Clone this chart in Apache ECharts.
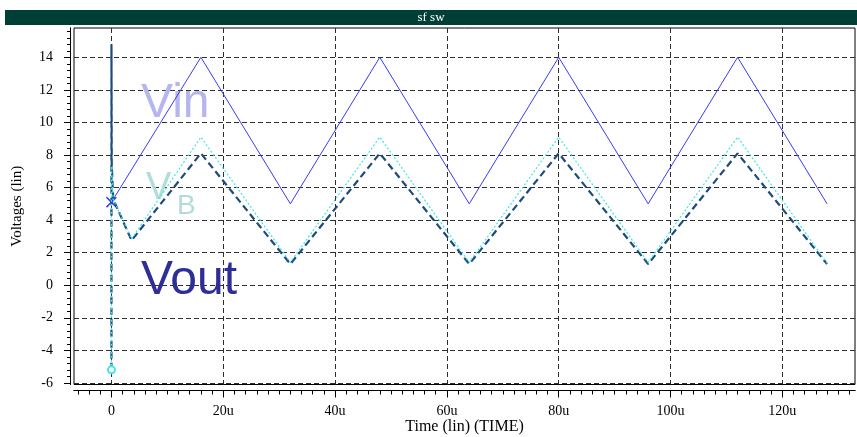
<!DOCTYPE html>
<html>
<head>
<meta charset="utf-8">
<script src="https://cdn.jsdelivr.net/npm/echarts@6/dist/echarts.min.js"></script>
<style>
  html, body { margin: 0; padding: 0; background: #ffffff; }
  #chart { width: 857px; height: 437px; }
</style>
</head>
<body>
<div id="chart"></div>
<script>
// Time axis (microseconds) and voltage axis tick values
const timeTicks = [0, 20, 40, 60, 80, 100, 120];
const voltTicks = [-6, -4, -2, 0, 2, 4, 6, 8, 10, 12, 14];

// Waveforms: [time in us, volts]
const vin = [[0, 5.1], [16, 14], [32, 5], [48, 14], [64, 5], [80, 14], [96, 5], [112, 14], [128, 5]];
const vb = [[0, -5.2], [0, 7.3], [0.3, 5.3], [3.6, 2.85], [16, 9.1], [32, 1.4], [48, 9.1], [64, 1.4],
            [80, 9.1], [96, 1.4], [112, 9.1], [128, 1.35]];
const vout = [[0, -5.2], [0, 14.8], [0.05, 7.5], [0.3, 5.3], [3.6, 2.75], [16, 8.1], [32, 1.3], [48, 8.1],
              [64, 1.3], [80, 8.1], [96, 1.3], [112, 8.1], [128, 1.3]];

const X_MIN = -6.7, X_MAX = 133;
const Y_MIN = -6.1, Y_MAX = 15.8;

// minor tick positions: every 2us on time, every 0.4V on voltage
const timeMinor = [];
for (let t = -6; t <= 132; t += 2) timeMinor.push(t);
const voltMinor = [];
for (let i = 0; i * 0.4 - 6 <= 15.6 + 1e-9; i++) voltMinor.push(+(i * 0.4 - 6).toFixed(2));

const serifFont = '"Liberation Serif", "DejaVu Serif", serif';
const gridDash = { color: '#2e2e2e', width: 1, type: [5, 3] };
const axisLineStyle = { show: true, onZero: false, lineStyle: { color: '#000', width: 1 } };

const chart = echarts.init(document.getElementById('chart'), null, { renderer: 'canvas' });

const baseX = { type: 'value', gridIndex: 0, min: X_MIN, max: X_MAX, position: 'bottom' };
const baseY = { type: 'value', gridIndex: 0, min: Y_MIN, max: Y_MAX, position: 'left' };

// filled "x" cross used as the start marker of Vin
const xSymbol = 'path://M0,1L1,0L5,4L9,0L10,1L6,5L10,9L9,10L5,6L1,10L0,9L4,5Z';

chart.setOption({
  animation: false,
  backgroundColor: '#ffffff',
  title: {
    text: 'sf sw',
    left: 431, top: 11, textAlign: 'center', padding: 0,
    textStyle: { color: '#ffffff', fontSize: 13, fontWeight: 'normal', fontFamily: serifFont, lineHeight: 13 }
  },
  grid: {
    left: 74, top: 28, right: 2, height: 356.5,
    outerBoundsMode: 'none', containLabel: false,
    show: true, borderColor: '#000000', borderWidth: 1, backgroundColor: 'transparent'
  },
  graphic: [
    { type: 'rect', left: 5, top: 10, shape: { width: 852, height: 15 }, style: { fill: '#003f36' }, z: -1 },
    { type: 'text', x: 141, y: 80, z: 1,
      style: { text: 'Vin', fill: '#b6b6ee', font: '48px "Liberation Sans", Arial, sans-serif' } },
    { type: 'text', x: 146, y: 170, z: 1,
      style: { text: 'V', fill: '#b2dcdc', font: '38px "Liberation Sans", Arial, sans-serif' } },
    { type: 'text', x: 177, y: 192, z: 1,
      style: { text: 'B', fill: '#b2dcdc', font: '28px "Liberation Sans", Arial, sans-serif' } },
    { type: 'text', x: 141, y: 257, z: 1,
      style: { text: 'Vout', fill: '#2e2e96', font: '48px "Liberation Sans", Arial, sans-serif' } }
  ],
  xAxis: [
    Object.assign({}, baseX, {
      axisLine: { show: false, onZero: false },
      axisTick: { show: false, customValues: timeTicks },
      axisLabel: { show: false },
      splitLine: { show: true, lineStyle: gridDash }
    }),
    Object.assign({}, baseX, {
      offset: 6,
      axisLine: axisLineStyle,
      axisTick: { show: true, customValues: timeMinor, length: 4, lineStyle: { color: '#000' } },
      axisLabel: { show: false },
      splitLine: { show: false }
    }),
    Object.assign({}, baseX, {
      offset: 6,
      name: 'Time (lin) (TIME)', nameLocation: 'middle', nameGap: 28, nameMoveOverlap: false,
      nameTextStyle: { color: '#000', fontSize: 16, fontFamily: serifFont },
      axisLine: axisLineStyle,
      axisTick: { show: true, customValues: timeTicks, length: 7, lineStyle: { color: '#000' } },
      axisLabel: {
        show: true, customValues: timeTicks, margin: 14,
        color: '#000', fontSize: 14, fontFamily: serifFont,
        formatter: v => (v === 0 ? '0' : v + 'u')
      },
      splitLine: { show: false }
    })
  ],
  yAxis: [
    Object.assign({}, baseY, {
      axisLine: { show: false, onZero: false },
      axisTick: { show: false, customValues: voltTicks },
      axisLabel: { show: false },
      splitLine: { show: true, lineStyle: gridDash }
    }),
    Object.assign({}, baseY, {
      offset: 4,
      axisLine: axisLineStyle,
      axisTick: { show: true, customValues: voltMinor, length: 3, lineStyle: { color: '#000' } },
      axisLabel: { show: false },
      splitLine: { show: false }
    }),
    Object.assign({}, baseY, {
      offset: 4,
      name: 'Voltages (lin)', nameLocation: 'middle', nameGap: 45, nameRotate: 90, nameMoveOverlap: false,
      nameTextStyle: { color: '#000', fontSize: 15, fontFamily: serifFont },
      axisLine: axisLineStyle,
      axisTick: { show: true, customValues: voltTicks, length: 6, lineStyle: { color: '#000' } },
      axisLabel: {
        show: true, customValues: voltTicks, margin: 17,
        color: '#000', fontSize: 14, fontFamily: serifFont
      },
      splitLine: { show: false }
    })
  ],
  series: [
    {
      name: 'Vin', type: 'line', xAxisIndex: 0, yAxisIndex: 0,
      data: vin.map((p, i) => i === 0 ? { value: p } : { value: p, symbol: 'none' }),
      lineStyle: { color: '#3b3bf5', width: 1 },
      itemStyle: { color: '#3b3bf5' },
      showSymbol: true, symbol: xSymbol, symbolSize: 11,
      z: 3
    },
    {
      name: 'Vout', type: 'line', xAxisIndex: 0, yAxisIndex: 0, data: vout,
      lineStyle: { color: '#1c4b7c', width: 2.2, type: [7, 4] },
      showSymbol: false, symbol: 'none',
      z: 4
    },
    {
      name: 'VB', type: 'line', xAxisIndex: 0, yAxisIndex: 0,
      data: vb.map((p, i) => i === 0 ? { value: p } : { value: p, symbol: 'none' }),
      lineStyle: { color: '#3ee6e6', width: 1.2, type: [2, 2] },
      itemStyle: { color: '#3ee6e6', borderColor: '#3ee6e6', borderWidth: 1.5 },
      showSymbol: true, symbol: 'emptyCircle', symbolSize: 7,
      z: 5
    }
  ]
});
</script>
</body>
</html>
